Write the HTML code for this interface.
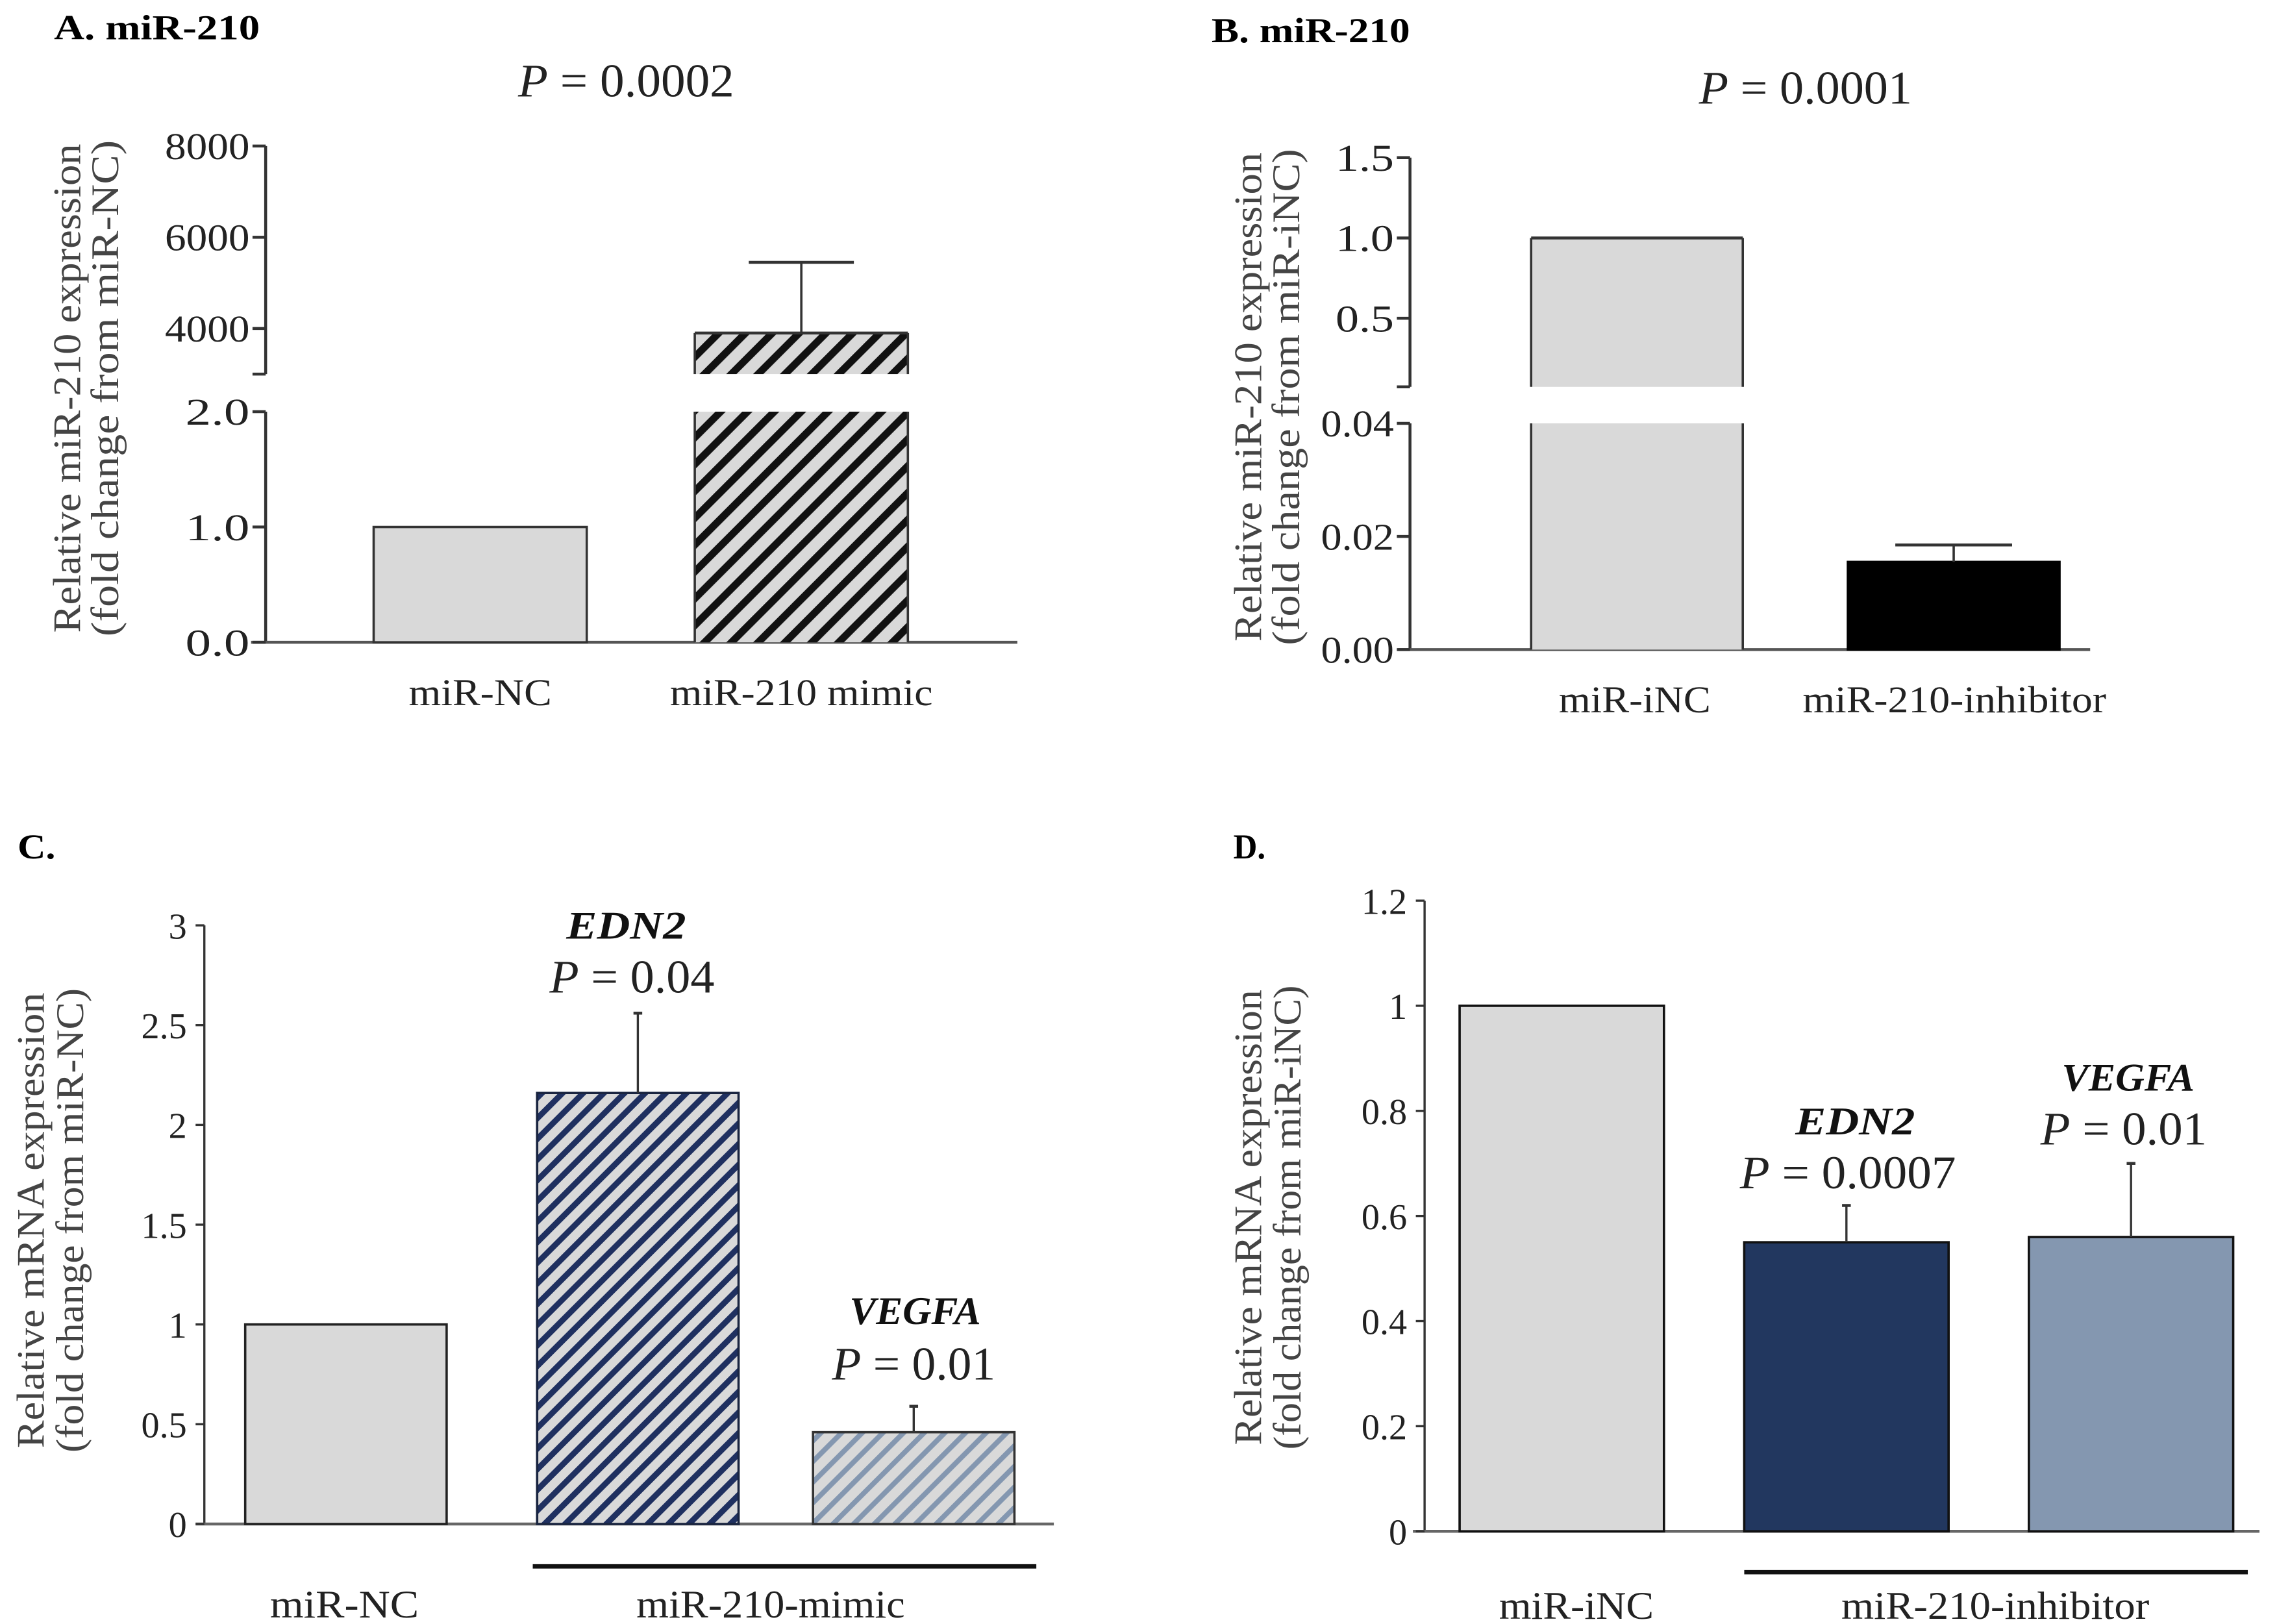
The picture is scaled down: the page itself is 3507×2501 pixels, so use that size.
<!DOCTYPE html>
<html><head><meta charset="utf-8"><style>
html,body{margin:0;padding:0;background:#fff;}
svg{display:block;font-family:"Liberation Serif",serif;}
</style></head><body>
<svg id="fig" width="3507" height="2501" viewBox="0 0 1560 1112.5" xmlns="http://www.w3.org/2000/svg">
<defs>
<pattern id="hatchA" patternUnits="userSpaceOnUse" width="13" height="13" patternTransform="rotate(45)"><rect width="13" height="13" fill="#d9d9d9"/><rect width="5" height="13" fill="#111"/></pattern>
<pattern id="hatchC1" patternUnits="userSpaceOnUse" width="10" height="10" patternTransform="rotate(45)"><rect width="10" height="10" fill="#d9d9d9"/><rect width="4" height="10" fill="#1f3060"/></pattern>
<pattern id="hatchC2" patternUnits="userSpaceOnUse" width="10" height="10" patternTransform="rotate(45)"><rect width="10" height="10" fill="#d9d9d9"/><rect width="3.5" height="10" fill="#8497b0"/></pattern>
</defs>
<g id="root"></g>
</svg>
<script>
// Panel A data
const aCategories = ["miR-NC", "miR-210 mimic"];
const aValues = [1.0, 3900];
const aErrors = [0, 1550];
const aLowTicks = [0, 1, 2];
const aLowTickLabels = ["0.0", "1.0", "2.0"];
const aHighTicks = [4000, 6000, 8000];
const aHighTickLabels = ["4000", "6000", "8000"];
// Panel B data
const bCategories = ["miR-iNC", "miR-210-inhibitor"];
const bValues = [1.0, 0.0155];
const bErrors = [0, 0.003];
const bLowTicks = [0, 0.02, 0.04];
const bLowTickLabels = ["0.00", "0.02", "0.04"];
const bHighTicks = [0.5, 1.0, 1.5];
const bHighTickLabels = ["0.5", "1.0", "1.5"];
// Panel C data
const cCategories = ["miR-NC", "EDN2", "VEGFA"];
const cValues = [1.0, 2.16, 0.46];
const cErrors = [0, 0.40, 0.13];
const cTicks = [0, 0.5, 1, 1.5, 2, 2.5, 3];
const cTickLabels = ["0", "0.5", "1", "1.5", "2", "2.5", "3"];
// Panel D data
const dCategories = ["miR-iNC", "EDN2", "VEGFA"];
const dValues = [1.0, 0.55, 0.56];
const dErrors = [0, 0.07, 0.14];
const dTicks = [0, 0.2, 0.4, 0.6, 0.8, 1, 1.2];
const dTickLabels = ["0", "0.2", "0.4", "0.6", "0.8", "1", "1.2"];

const NS = "http://www.w3.org/2000/svg";
const root = document.getElementById("root");
function mk(tag, attrs, parent, txt) {
  const e = document.createElementNS(NS, tag);
  for (const k in attrs) e.setAttribute(k, attrs[k]);
  if (txt !== undefined) e.textContent = txt;
  (parent || root).appendChild(e);
  return e;
}
function line(x1, y1, x2, y2, w, col, name, p) {
  const l = mk("line", {x1, y1, x2, y2, stroke: col || "#333", "stroke-width": w || 1.5}, p);
  
  
  return l;
}
function text(x, y, s, size, anchor, name, extra, p, len) {
  const a = Object.assign({x, y, "font-size": size, "text-anchor": anchor || "middle", fill: "#222"}, extra || {});
  if (len) { a.textLength = len; a.lengthAdjust = "spacingAndGlyphs"; }
  const t = mk("text", a, p, s);
  
  
  return t;
}
function ptext(cx, y, val, size, name, len) {
  const t = text(cx, y, "", size, "middle", name, null, null, len);
  mk("tspan", {"font-style": "italic"}, t, "P");
  mk("tspan", {}, t, " = " + val);
  return t;
}
function ytitle(cx, cy, l1, l2, size, name, len1, len2, gap) {
  const g = mk("g", {transform: "translate(" + cx + "," + cy + ") rotate(-90)"});
  
  
  text(0, 0, l1, size, "middle", name + "-line1", {fill: "#444"}, g, len1);
  text(0, gap, l2, size, "middle", name + "-line2", {fill: "#444"}, g, len2);
}
function rect(x, y, w, h, fill, name, stroke) {
  const r = mk("rect", {x, y, width: w, height: Math.max(0, h), fill, stroke: stroke || "none", "stroke-width": 1.6});
  
  
  return r;
}

// ---------- Panel A ----------
(function () {
  text(37, 27, "A. miR-210", 24, "start", "panel-a-title", {"font-weight": "bold", fill: "#000"}, null, 141);
  ptext(429, 66, "0.0002", 32, "panel-a-p-value", 148);
  const ax = 182, y0 = 440;
  const yLow = v => y0 - v * 79;
  const yHigh = v => 225 - (v - 4000) * 62.5 / 2000;
  line(ax, yLow(2), ax, y0, 2, "#333", "a-y-axis-lower");
  line(ax, yHigh(8000), ax, yHigh(3000), 2, "#333", "a-y-axis-upper");
  line(172, y0, 697, y0, 2, "#555", "a-x-axis");
  aLowTicks.forEach((v, i) => { line(ax - 9, yLow(v), ax, yLow(v), 2, "#333", "a-tick"); text(ax - 11, yLow(v) + 9, aLowTickLabels[i], 26, "end", "a-tick-label", null, null, 44); });
  aHighTicks.forEach((v, i) => { line(ax - 9, yHigh(v), ax, yHigh(v), 2, "#333", "a-tick"); text(ax - 11, yHigh(v) + 9, aHighTickLabels[i], 26, "end", "a-tick-label", null, null, 58); });
  line(ax - 9, yHigh(3000), ax, yHigh(3000), 2, "#333", "a-break-tick");
  ytitle(55, 266, "Relative miR-210 expression", "(fold change from miR-NC)", 27, "a-y-axis-title", 335, 340, 26);
  const xs = [256, 476], bw = 146;
  rect(xs[0], yLow(aValues[0]), bw, y0 - yLow(aValues[0]), "#d9d9d9", "a-bar-mir-nc", "#333");
  rect(xs[1], yLow(2), bw, y0 - yLow(2), "url(#hatchA)", "a-bar-mimic-lower");
  line(xs[1], yLow(2), xs[1], y0, 1.6, "#333", "a-bar-edge");
  line(xs[1] + bw, yLow(2), xs[1] + bw, y0, 1.6, "#333", "a-bar-edge");
  const top = yHigh(aValues[1]);
  rect(xs[1], top, bw, yHigh(3000) - top, "url(#hatchA)", "a-bar-mimic-upper");
  line(xs[1], top, xs[1] + bw, top, 2, "#333", "a-bar-top");
  line(xs[1], top, xs[1], yHigh(3000), 1.6, "#333", "a-bar-edge");
  line(xs[1] + bw, top, xs[1] + bw, yHigh(3000), 1.6, "#333", "a-bar-edge");
  const et = yHigh(aValues[1] + aErrors[1]), cx = xs[1] + bw / 2;
  line(cx, top, cx, et, 1.6, "#333", "a-error-bar");
  line(cx - 36, et, cx + 36, et, 2, "#333", "a-error-cap");
  const aLens = [98, 180];
  aCategories.forEach((c, i) => text(xs[i] + bw / 2, 483, c, 26, "middle", "a-x-label", null, null, aLens[i]));
})();

// ---------- Panel B ----------
(function () {
  text(830, 29, "B. miR-210", 24, "start", "panel-b-title", {"font-weight": "bold", fill: "#000"}, null, 136);
  ptext(1237, 71, "0.0001", 32, "panel-b-p-value", 146);
  const ax = 966, y0 = 445;
  const yLow = v => y0 - v * 3875;
  const yHigh = v => 163 - (v - 1.0) * 110;
  const yBreak = 265;
  line(ax, yLow(0.04), ax, y0, 2, "#333", "b-y-axis-lower");
  line(ax, yHigh(1.5), ax, yBreak, 2, "#333", "b-y-axis-upper");
  line(958, y0, 1432, y0, 2, "#555", "b-x-axis");
  bLowTicks.forEach((v, i) => { line(ax - 9, yLow(v), ax, yLow(v), 2, "#333", "b-tick"); text(ax - 11, yLow(v) + 9, bLowTickLabels[i], 26, "end", "b-tick-label", null, null, 50); });
  bHighTicks.forEach((v, i) => { line(ax - 9, yHigh(v), ax, yHigh(v), 2, "#333", "b-tick"); text(ax - 11, yHigh(v) + 9, bHighTickLabels[i], 26, "end", "b-tick-label", null, null, 40); });
  line(ax - 9, yBreak, ax, yBreak, 2, "#333", "b-break-tick");
  ytitle(864, 272, "Relative miR-210 expression", "(fold change from miR-iNC)", 27, "b-y-axis-title", 335, 340, 26);
  const xs = [1049, 1266], bw = 145;
  const top = yHigh(bValues[0]);
  rect(xs[0], top, bw, yBreak - top, "#d9d9d9", "b-bar-inc-upper");
  rect(xs[0], yLow(0.04), bw, y0 - yLow(0.04), "#d9d9d9", "b-bar-inc-lower");
  line(xs[0], top, xs[0] + bw, top, 2, "#333", "b-bar-top");
  [xs[0], xs[0] + bw].forEach(x => { line(x, top, x, yBreak, 1.6, "#333", "b-bar-edge"); line(x, yLow(0.04), x, y0, 1.6, "#333", "b-bar-edge"); });
  const t1 = yLow(bValues[1]);
  rect(xs[1], t1, bw, y0 - t1, "#000", "b-bar-inhibitor", "#000");
  const et = yLow(bValues[1] + bErrors[1]), cx = xs[1] + bw / 2;
  line(cx, t1, cx, et, 1.6, "#333", "b-error-bar");
  line(cx - 40, et, cx + 40, et, 2, "#333", "b-error-cap");
  const bLens = [104, 208];
  const bCx = [1120, 1339];
  bCategories.forEach((c, i) => text(bCx[i], 488, c, 26, "middle", "b-x-label", null, null, bLens[i]));
})();

// ---------- Panel C ----------
(function () {
  text(12, 588, "C.", 24, "start", "panel-c-title", {"font-weight": "bold", fill: "#000"}, null, 26);
  const ax = 140, y0 = 1044;
  const y = v => y0 - v * 136.7;
  line(ax, y(3), ax, y0, 1.5, "#333", "c-y-axis");
  line(134, y0, 722, y0, 2, "#666", "c-x-axis");
  cTicks.forEach((v, i) => { line(ax - 6, y(v), ax, y(v), 1.5, "#333", "c-tick"); text(ax - 12, y(v) + 9, cTickLabels[i], 25, "end", "c-tick-label"); });
  ytitle(30, 836, "Relative mRNA expression", "(fold change from miR-NC)", 27, "c-y-axis-title", 312, 318, 27);
  const xs = [168, 368, 557], bw = 138;
  const fills = ["#d9d9d9", "url(#hatchC1)", "url(#hatchC2)"];
  const names = ["c-bar-mir-nc", "c-bar-edn2", "c-bar-vegfa"];
  const strokes = ["#222", "#1a2540", "#333"];
  cValues.forEach((v, i) => {
    rect(xs[i], y(v), bw, y0 - y(v), fills[i], names[i], strokes[i]);
    if (cErrors[i] > 0) {
      const cx = xs[i] + bw / 2, et = y(v + cErrors[i]);
      line(cx, y(v), cx, et, 1.5, "#333", "c-error-bar");
      line(cx - 3, et, cx + 3, et, 2, "#333", "c-error-cap");
    }
  });
  text(429, 643, "EDN2", 27, "middle", "c-edn2-label", {"font-weight": "bold", "font-style": "italic", fill: "#111"}, null, 82);
  ptext(433, 680, "0.04", 32, "c-edn2-p-value", 113);
  text(627, 907, "VEGFA", 27, "middle", "c-vegfa-label", {"font-weight": "bold", "font-style": "italic", fill: "#111"}, null, 90);
  ptext(626, 945, "0.01", 32, "c-vegfa-p-value", 112);
  line(365, 1073, 710, 1073, 3, "#111", "c-group-line");
  text(236, 1108, cCategories[0], 27, "middle", "c-x-label", null, null, 102);
  text(528, 1108, "miR-210-mimic", 27, "middle", "c-group-label", null, null, 184);
})();

// ---------- Panel D ----------
(function () {
  text(845, 588, "D.", 24, "start", "panel-d-title", {"font-weight": "bold", fill: "#000"}, null, 22);
  const ax = 976, y0 = 1049;
  const y = v => y0 - v * 360;
  line(ax, y(1.2), ax, y0, 1.5, "#333", "d-y-axis");
  line(968, y0, 1548, y0, 2, "#666", "d-x-axis");
  dTicks.forEach((v, i) => { line(ax - 6, y(v), ax, y(v), 1.5, "#333", "d-tick"); text(ax - 12, y(v) + 9, dTickLabels[i], 25, "end", "d-tick-label"); });
  ytitle(864, 834, "Relative mRNA expression", "(fold change from miR-iNC)", 27, "d-y-axis-title", 312, 318, 27);
  const xs = [1000, 1195, 1390], bw = 140;
  const fills = ["#d9d9d9", "#22375f", "#8497b0"];
  const names = ["d-bar-mir-inc", "d-bar-edn2", "d-bar-vegfa"];
  dValues.forEach((v, i) => {
    rect(xs[i], y(v), bw, y0 - y(v), fills[i], names[i], "#111");
    if (dErrors[i] > 0) {
      const cx = xs[i] + bw / 2, et = y(v + dErrors[i]);
      line(cx, y(v), cx, et, 1.5, "#333", "d-error-bar");
      line(cx - 3, et, cx + 3, et, 2, "#333", "d-error-cap");
    }
  });
  text(1271, 777, "EDN2", 27, "middle", "d-edn2-label", {"font-weight": "bold", "font-style": "italic", fill: "#111"}, null, 82);
  ptext(1266, 814, "0.0007", 32, "d-edn2-p-value", 148);
  text(1458, 747, "VEGFA", 27, "middle", "d-vegfa-label", {"font-weight": "bold", "font-style": "italic", fill: "#111"}, null, 91);
  ptext(1455, 784, "0.01", 32, "d-vegfa-p-value", 114);
  line(1195, 1077, 1540, 1077, 3, "#111", "d-group-line");
  text(1080, 1109, dCategories[0], 27, "middle", "d-x-label", null, null, 106);
  text(1367, 1109, "miR-210-inhibitor", 27, "middle", "d-group-label", null, null, 211);
})();
</script>
</body></html>
